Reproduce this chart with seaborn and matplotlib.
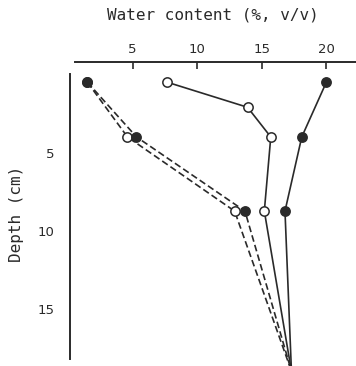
import matplotlib
matplotlib.use("Agg")
import matplotlib.pyplot as plt
import seaborn as sns
import pandas as pd

# Data
solid_filled_depth = [0.5, 4.0, 8.75]
solid_filled_water = [20.0, 18.1, 16.8]

solid_open_depth = [0.5, 2.1, 4.0, 8.75]
solid_open_water = [7.7, 13.9, 15.7, 15.2]

dashed_filled_depth = [0.5, 4.0, 8.75]
dashed_filled_water = [1.5, 5.3, 13.7]

dashed_open_depth = [0.5, 4.0, 8.75]
dashed_open_water = [1.5, 4.6, 12.9]

# all profiles meet below the plotted depth range
bottom_depth = 19.0
bottom_water = 17.3

x_ticks = [5, 10, 15, 20]
y_ticks = [0, 5, 10, 15]
y_tick_labels = ["", "5", "10", "15"]

sns.set_style("white")
plt.rcParams["font.family"] = ["DejaVu Sans"]

ink = "#2a2a2a"

fig = plt.figure(figsize=(3.56, 3.66), dpi=100)
ax = fig.add_axes([70 / 356, 0.0, 1 - 70 / 356, 1 - 62 / 366])

series = [
    (dashed_open_water, dashed_open_depth, (0, (4, 2)), "white"),
    (dashed_filled_water, dashed_filled_depth, (0, (4, 2)), ink),
    (solid_open_water, solid_open_depth, "-", "white"),
    (solid_filled_water, solid_filled_depth, "-", ink),
]

for water, depth, style, face in series:
    # line continues to the common bottom point
    line_df = pd.DataFrame({"water": water + [bottom_water],
                            "depth": depth + [bottom_depth]})
    sns.lineplot(data=line_df, x="water", y="depth", sort=False,
                 estimator=None, color=ink, linewidth=1.2,
                 linestyle=style, ax=ax, zorder=2)

for water, depth, style, face in series:
    pts = pd.DataFrame({"water": water, "depth": depth})
    sns.scatterplot(data=pts, x="water", y="depth", ax=ax, s=45,
                    color=face, edgecolor=ink, linewidth=1.1, zorder=3)

ax.set_xlim(0.15, 22.3)
ax.set_ylim(18.67, -0.8)

ax.xaxis.tick_top()
ax.xaxis.set_label_position("top")
ax.set_xticks(x_ticks)
ax.set_yticks(y_ticks)
ax.set_yticklabels(y_tick_labels)

ax.tick_params(axis="x", direction="in", length=5, width=1.2, pad=4,
               labelsize=9.5, colors=ink)
ax.tick_params(axis="y", direction="in", length=5, width=1.2, pad=11,
               labelsize=9.5, colors=ink)

for side in ["right", "bottom"]:
    ax.spines[side].set_visible(False)
ax.spines["top"].set_color(ink)
ax.spines["top"].set_linewidth(1.4)
ax.spines["top"].set_bounds(0.5, 22.3)
ax.spines["left"].set_color(ink)
ax.spines["left"].set_linewidth(1.4)
ax.spines["left"].set_bounds(0.0, 18.2)

ax.set_xlabel("Water content (%, v/v)", family="DejaVu Sans Mono",
              fontsize=11.5, color=ink, labelpad=17)
ax.set_ylabel("Depth (cm)", family="DejaVu Sans Mono",
              fontsize=11.5, color=ink, labelpad=10)

fig.savefig("out.png", dpi=100)
